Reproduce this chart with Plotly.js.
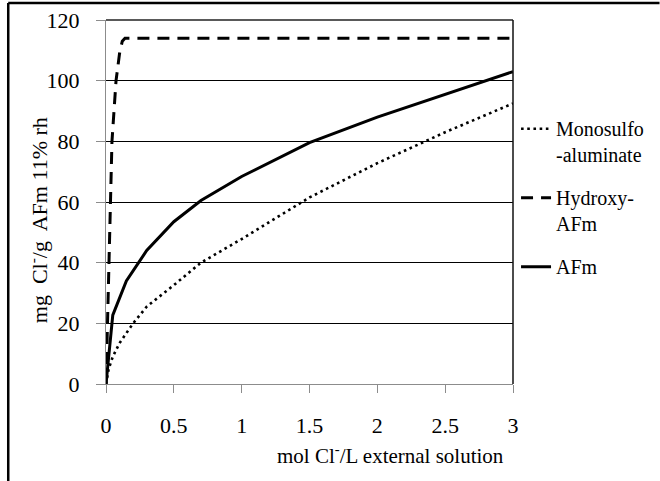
<!DOCTYPE html>
<html>
<head>
<meta charset="utf-8">
<script src="https://cdn.plot.ly/plotly-3.0.1.min.js"></script>
<style>
  html, body { margin: 0; padding: 0; background: #fff; }
  #chart { width: 660px; height: 481px; }
</style>
</head>
<body>
<div id="chart"></div>
<script>
// Series
var seriesNames = ["Monosulfo<br>-aluminate", "Hydroxy-<br>AFm", "AFm"];

var monoX = [0, 0.02, 0.05, 0.1, 0.2, 0.3, 0.5, 0.7, 1, 1.5, 2, 2.5, 3];
var monoY = [0, 5, 9, 13.5, 20, 25.5, 32.6, 40, 47.8, 61.5, 72.8, 83, 92.5];

var hydroX = [0, 0.01, 0.024, 0.044, 0.074, 0.1, 0.12, 0.14, 3];
var hydroY = [0, 20, 40, 80, 100, 109, 113, 114, 114];

var afmX = [0, 0.05, 0.15, 0.3, 0.5, 0.7, 1, 1.5, 2, 2.5, 3];
var afmY = [0, 22.7, 34, 44, 53.5, 60.5, 68.4, 79.6, 88, 95.6, 103];

var xTicks = [0, 0.5, 1, 1.5, 2, 2.5, 3];
var xTickText = ["0", "0.5", "1", "1.5", "2", "2.5", "3"];
var yTicks = [0, 20, 40, 60, 80, 100, 120];
var yTickText = ["0", "20", "40", "60", "80", "100", "120"];

var xTitle = "mol Cl<sup>-</sup>/L external solution";
var yTitle = "mg  Cl<sup>-</sup>/g  AFm 11% rh";

var serif = "Liberation Serif";

function sf(t) {
  return t.split("<br>").map(function (p) {
    return '<span style="font-family:Liberation Serif">' + p + '</span>';
  }).join("<br>");
}

var traces = [
  {
    x: monoX, y: monoY, name: sf(seriesNames[0]), legendgroup: "g1", type: "scatter", mode: "lines",
    line: { color: "#000", width: 2.6, dash: "2.6px,3.6px" }
  },
  {
    x: hydroX, y: hydroY, name: sf(seriesNames[1]), legendgroup: "g2", type: "scatter", mode: "lines",
    line: { color: "#000", width: 3, dash: "12px,8px" }
  },
  {
    x: afmX, y: afmY, name: sf(seriesNames[2]), legendgroup: "g3", type: "scatter", mode: "lines",
    line: { color: "#000", width: 3 }
  }
];

var layout = {
  width: 660, height: 481,
  margin: { l: 106, r: 146, t: 20, b: 97 },
  paper_bgcolor: "#fff", plot_bgcolor: "#fff",
  font: { family: serif, color: "#000", size: 20 },
  showlegend: true,
  legend: {
    x: 1.005, y: 0.755, xanchor: "left", yanchor: "top",
    font: { family: serif, size: 20, color: "#000" },
    itemwidth: 30, valign: "top", tracegroupgap: 14,
    bgcolor: "rgba(0,0,0,0)"
  },
  xaxis: {
    range: [0, 3], tickvals: xTicks, ticktext: xTickText.map(sf),
    showgrid: false, zeroline: false,
    showline: true, linecolor: "#8c8c8c", linewidth: 1,
    ticks: "outside", ticklen: 8, tickcolor: "#8c8c8c",
    ticklabelstandoff: 14,
    tickfont: { family: serif, size: 22, color: "#000" },
    fixedrange: true
  },
  yaxis: {
    range: [0, 120], tickvals: yTicks, ticktext: yTickText.map(sf),
    showgrid: true, gridcolor: "#000", gridwidth: 1,
    zeroline: false,
    showline: true, linecolor: "#8c8c8c", linewidth: 1,
    ticks: "outside", ticklen: 9, tickcolor: "#8c8c8c",
    ticklabelstandoff: 12,
    tickfont: { family: serif, size: 22, color: "#000" },
    fixedrange: true
  },
  annotations: [
    { text: xTitle, xref: "paper", yref: "paper", x: 0.7, y: -0.195, xanchor: "center", yanchor: "middle",
      showarrow: false, font: { family: serif, size: 21, color: "#000" } },
    { text: yTitle, xref: "paper", yref: "paper", x: -0.167, y: 0.45, xanchor: "center", yanchor: "middle",
      textangle: -90, showarrow: false, font: { family: serif, size: 22, color: "#000" } }
  ],
  shapes: [
    // plot frame top and right
    { type: "line", xref: "paper", yref: "paper", x0: 0, x1: 1, y0: 1, y1: 1, line: { color: "#222", width: 1.3 } },
    { type: "line", xref: "paper", yref: "paper", x0: 1, x1: 1, y0: 0, y1: 1, line: { color: "#111", width: 1.5 } },
    // outer picture frame (left and top)
    { type: "line", xref: "paper", yref: "paper", x0: -0.2402, x1: -0.2402, y0: 1.0467, y1: -0.27, line: { color: "#000", width: 2.5 } },
    { type: "line", xref: "paper", yref: "paper", x0: -0.2402, x1: 1.36, y0: 1.0467, y1: 1.0467, line: { color: "#000", width: 2.5 } }
  ]
};

Plotly.newPlot("chart", traces, layout, { displayModeBar: false, staticPlot: true });
</script>
</body>
</html>
